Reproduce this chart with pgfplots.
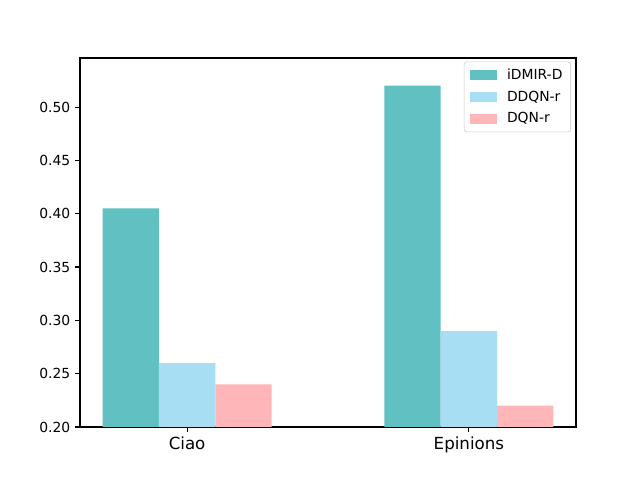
\documentclass[border=0pt]{standalone}
\usepackage{pgfplots}
\pgfplotsset{compat=1.18}
\usepackage{fontspec}
\setmainfont{DejaVu Sans}
\definecolor{cA}{HTML}{60C0C2}
\definecolor{cB}{HTML}{A8DEF3}
\definecolor{cC}{HTML}{FFB6B9}
\begin{document}
\begin{tikzpicture}[x=0.72pt,y=0.72pt]
\path[use as bounding box] (0,0) rectangle (640,480);
\begin{axis}[
  at={(80*0.72pt,53*0.72pt)}, anchor=south west,
  width=357.12pt, height=265.68pt, scale only axis,
  xmin=-0.38, xmax=1.38, ymin=0.2, ymax=0.546,
  xtick={0,1}, xticklabels={Ciao,Epinions},
  x tick label style={font=\fontsize{12}{14}\selectfont},
  ytick={0.2,0.25,0.3,0.35,0.4,0.45,0.5},
  y tick label style={font=\fontsize{10}{12}\selectfont, /pgf/number format/fixed, /pgf/number format/fixed zerofill, /pgf/number format/precision=2},
  /pgf/number format/assume math mode=true,
  tick align=outside, tick pos=left,
  major tick length=3.5pt,
  axis line style={line width=0.8pt},
  every tick/.style={line width=0.8pt, black},
  legend style={at={(0.99,0.99)}, anchor=north east, draw=black!20, rounded corners=2pt,
    font=\fontsize{10}{12}\selectfont, row sep=2.7pt, inner xsep=4pt, inner ysep=3pt,
    /tikz/every odd column/.style={column sep=5pt}},
  legend cell align=left,
  area legend,
  legend image code/.code={\fill[#1, sharp corners] (0cm,-0.125cm) rectangle (0.7cm,0.125cm);},
]
\addplot[ybar, bar width=0.2, bar shift=-0.2, fill=cA, draw=none] coordinates {(0,0.405) (1,0.52)};
\addlegendentry{iDMIR-D}
\addplot[ybar, bar width=0.2, bar shift=0, fill=cB, draw=none] coordinates {(0,0.26) (1,0.29)};
\addlegendentry{DDQN-r}
\addplot[ybar, bar width=0.2, bar shift=0.2, fill=cC, draw=none] coordinates {(0,0.24) (1,0.22)};
\addlegendentry{DQN-r}
\end{axis}
\end{tikzpicture}
\end{document}
